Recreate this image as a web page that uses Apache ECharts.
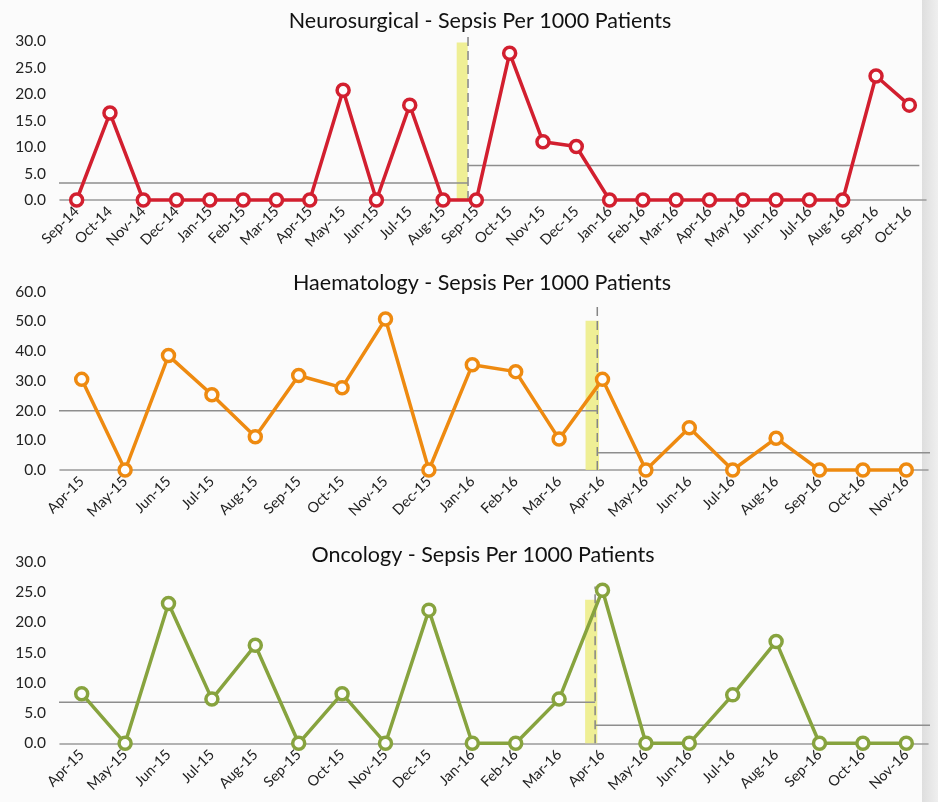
<!DOCTYPE html>
<html>
<head>
<meta charset="utf-8">
<script src="https://cdn.jsdelivr.net/npm/echarts@6/dist/echarts.min.js"></script>
<style>
  html, body { margin: 0; padding: 0; background: #fbfbfb; }
  #chart { width: 938px; height: 802px; }
</style>
</head>
<body>
<div id="chart"></div>
<script>
// months and sepsis rates
var neuroMonths = ['Sep-14','Oct-14','Nov-14','Dec-14','Jan-15','Feb-15','Mar-15','Apr-15','May-15','Jun-15','Jul-15','Aug-15','Sep-15',
	'Oct-15','Nov-15','Dec-15','Jan-16','Feb-16','Mar-16','Apr-16','May-16','Jun-16','Jul-16','Aug-16','Sep-16','Oct-16'];
var neuroRate = [0, 16.4, 0, 0, 0, 0, 0, 0, 20.7, 0, 17.9, 0, 0, 27.7, 11.0, 10.1, 0, 0, 0, 0, 0, 0, 0, 0, 23.4, 17.9];
var neuroMean = [3.2, 6.5];
var neuroSplit = 11.75;   // position between Aug-15 and Sep-15

var wardMonths = ['Apr-15','May-15','Jun-15','Jul-15','Aug-15','Sep-15','Oct-15','Nov-15','Dec-15','Jan-16','Feb-16','Mar-16',
	'Apr-16','May-16','Jun-16','Jul-16','Aug-16','Sep-16','Oct-16','Nov-16'];
var haemRate = [30.5, 0, 38.5, 25.3, 11.2, 31.8, 27.7, 50.8, 0, 35.4, 33.1, 10.4, 30.5, 0, 14.2, 0, 10.7, 0, 0, 0];
var haemMean = [19.9, 5.8];
var haemSplit = 11.88;

var oncRate = [8.2, 0, 23.1, 7.3, 16.2, 0, 8.2, 0, 22.0, 0, 0, 7.3, 25.3, 0, 0, 8.0, 16.8, 0, 0, 0];
var oncMean = [6.8, 3.0];
var oncSplit = 11.83;

var font = 'Lato, "Open Sans", sans-serif';

var graph = echarts.init(document.getElementById('chart'));

var panels = [
	{ title: 'Neurosurgical - Sepsis Per 1000 Patients', titleX: 475, titleTop: 5,
	  months: neuroMonths, rate: neuroRate, mean: neuroMean, split: neuroSplit, color: '#d21f2f',
	  top: 41, height: 159, right: 12, max: 30, interval: 5,
	  meanStart: -0.72, meanEnd: 25.3, dashTop: 31.1, band: [11.41, 11.74, 29.7, -0.2] },
	{ title: 'Haematology - Sepsis Per 1000 Patients', titleX: 477, titleTop: 267,
	  months: wardMonths, rate: haemRate, mean: haemMean, split: haemSplit, color: '#ee8a10',
	  top: 291.7, height: 178.3, right: 10, max: 60, interval: 10,
	  meanStart: -0.73, meanEnd: 19.66, dashTop: 55, band: [11.61, 11.92, 50.2, -2.4] },
	{ title: 'Oncology - Sepsis Per 1000 Patients', titleX: 478, titleTop: 539,
	  months: wardMonths, rate: oncRate, mean: oncMean, split: oncSplit, color: '#87a33e',
	  top: 561.7, height: 181.6, right: 10, max: 30, interval: 5,
	  meanStart: -0.78, meanEnd: 19.58, dashTop: 25.9, band: [11.6, 11.88, 23.7, -1.9] }
];

var titles = [], grids = [], xAxes = [], yAxes = [], series = [];

panels.forEach(function (p, i) {
	var n = p.months.length;
	titles.push({
		text: p.title, left: p.titleX, top: p.titleTop, textAlign: 'center',
		textStyle: { fontFamily: font, fontSize: 21.5, fontWeight: 'normal', color: '#111' }
	});
	grids.push({ left: 60, right: p.right, top: p.top, height: p.height, containLabel: false });

	// visible month axis
	xAxes.push({
		type: 'category', gridIndex: i, data: p.months, boundaryGap: true,
		axisLine: { lineStyle: { color: '#9a9a9a', width: 1.5 } },
		axisTick: { show: false },
		axisLabel: { interval: 0, rotate: 45, margin: 9, color: '#222', fontFamily: font, fontSize: 14.5 }
	});
	// hidden numeric twin, used for the mean lines and the change marker
	xAxes.push({ type: 'value', gridIndex: i, min: -0.5, max: n - 0.5, show: false });

	yAxes.push({
		type: 'value', gridIndex: i, min: 0, max: p.max, interval: p.interval,
		axisLine: { show: false }, axisTick: { show: false }, splitLine: { show: false },
		axisLabel: { margin: 14, color: '#222', fontFamily: font, fontSize: 15.5,
			formatter: function (v) { return v.toFixed(1); } }
	});

	var cx = i * 2, vx = i * 2 + 1;
	var grey = { color: '#8e8e8e', width: 1.5 };

	// yellow highlight behind the split
	series.push({
		type: 'line', xAxisIndex: vx, yAxisIndex: i, data: [], z: 1, silent: true, clip: false,
		markArea: {
			silent: true,
			itemStyle: { color: 'rgba(236,236,130,0.85)' },
			data: [[{ coord: [p.band[0], p.band[2]] }, { coord: [p.band[1], p.band[3]] }]]
		}
	});
	series.push({
		type: 'line', xAxisIndex: vx, yAxisIndex: i, z: 2, clip: false, symbol: 'none', silent: true,
		lineStyle: { color: '#858585', width: 1.5, type: [9, 5] },
		data: [[p.split, 0], [p.split, p.dashTop]]
	});
	series.push({
		type: 'line', xAxisIndex: vx, yAxisIndex: i, z: 2, clip: false, symbol: 'none', silent: true,
		lineStyle: grey, data: [[p.meanStart, p.mean[0]], [p.split, p.mean[0]]]
	});
	series.push({
		type: 'line', xAxisIndex: vx, yAxisIndex: i, z: 2, clip: false, symbol: 'none', silent: true,
		lineStyle: grey, data: [[p.split, p.mean[1]], [p.meanEnd, p.mean[1]]]
	});

	// the rate itself
	series.push({
		type: 'line', xAxisIndex: cx, yAxisIndex: i, z: 5, clip: false, data: p.rate,
		symbol: 'circle', symbolSize: 12,
		lineStyle: { color: p.color, width: 3.5 },
		itemStyle: { color: '#fdfdfd', borderColor: p.color, borderWidth: 3.5 }
	});
});

graph.setOption({
	animation: false,
	backgroundColor: '#fbfbfb',
	title: titles,
	grid: grids,
	xAxis: xAxes,
	yAxis: yAxes,
	series: series,
	graphic: [{
		type: 'rect', left: 922, top: 0, z: -1,
		shape: { width: 16, height: 802 },
		style: { fill: new echarts.graphic.LinearGradient(0, 0, 1, 0, [
			{ offset: 0, color: '#dedede' }, { offset: 1, color: '#efefef' }]) }
	}]
});
</script>
</body>
</html>
